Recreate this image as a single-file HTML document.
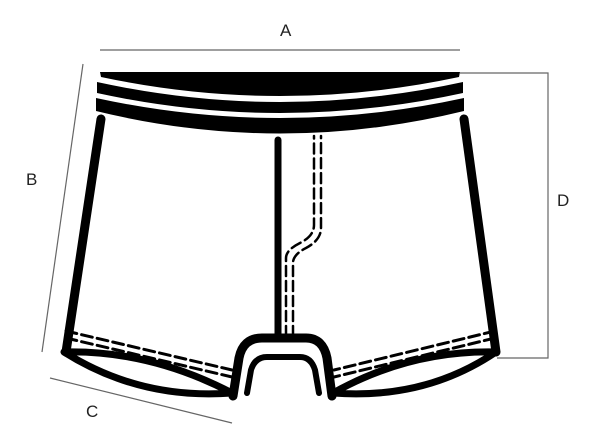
<!DOCTYPE html>
<html><head><style>body{margin:0;background:#fff}svg{display:block}</style></head><body>
<svg width="600" height="444" viewBox="0 0 600 444" xmlns="http://www.w3.org/2000/svg">
<g stroke="#666" stroke-width="1.2" fill="none">
<line x1="100" y1="50" x2="460" y2="50"/>
<line x1="83" y1="64" x2="42" y2="352"/>
<line x1="50" y1="378" x2="232" y2="423"/>
<polyline points="460,73 548,73 548,358 497,358"/>
</g>
<g font-family="Liberation Sans, sans-serif" font-size="17" fill="#222">
<text x="280" y="36">A</text><text x="26" y="185">B</text><text x="86" y="417">C</text><text x="557" y="206">D</text>
</g>
<path d="M100,72 L460,72 L459,77 Q280,115 101,77 Z" fill="#000"/>
<path d="M97,82 Q280,122 463,82 L463,93 Q280,133 97,93 Z" fill="#000"/>
<path d="M96,98 Q280,138 464,98 L464,111 Q280,156 96,111 Z" fill="#000"/>
<g stroke="#000" fill="none" stroke-linecap="round" stroke-linejoin="round">
<path d="M101,119 L66,352" stroke-width="9"/>
<path d="M464,119 L496,352" stroke-width="9"/>
<path d="M64,352 Q150,350 232,393 Q140,400 64,352 Z" stroke-width="7"/>
<path d="M496,352 Q410,350 333,393 Q425,400 496,352 Z" stroke-width="7"/>
<path d="M233,396 L239,358 Q243,338 262,338 L306,338 Q323,338 327,358 L332,396" stroke-width="9"/>
<path d="M247,393 L251,370 Q255,357 267,357 L300,357 Q311,357 315,370 L319,393" stroke-width="6"/>
<line x1="278" y1="140" x2="278" y2="336" stroke-width="7"/>
<g stroke-width="2.5" stroke-dasharray="10,5">
<path d="M286,336 L286,258 Q286,250 300,243 Q314,236 314,225 L314,136"/>
<path d="M293,336 L293,262 Q294,254 306,248 Q321,240 321,228 L321,136"/>
</g>
<g stroke-width="3" stroke-dasharray="11,5">
<path d="M66,331 L232,370"/><path d="M66,338 L232,377"/>
<path d="M495,331 L334,370"/><path d="M495,338 L334,377"/>
</g>
</g>
</svg>
</body></html>
